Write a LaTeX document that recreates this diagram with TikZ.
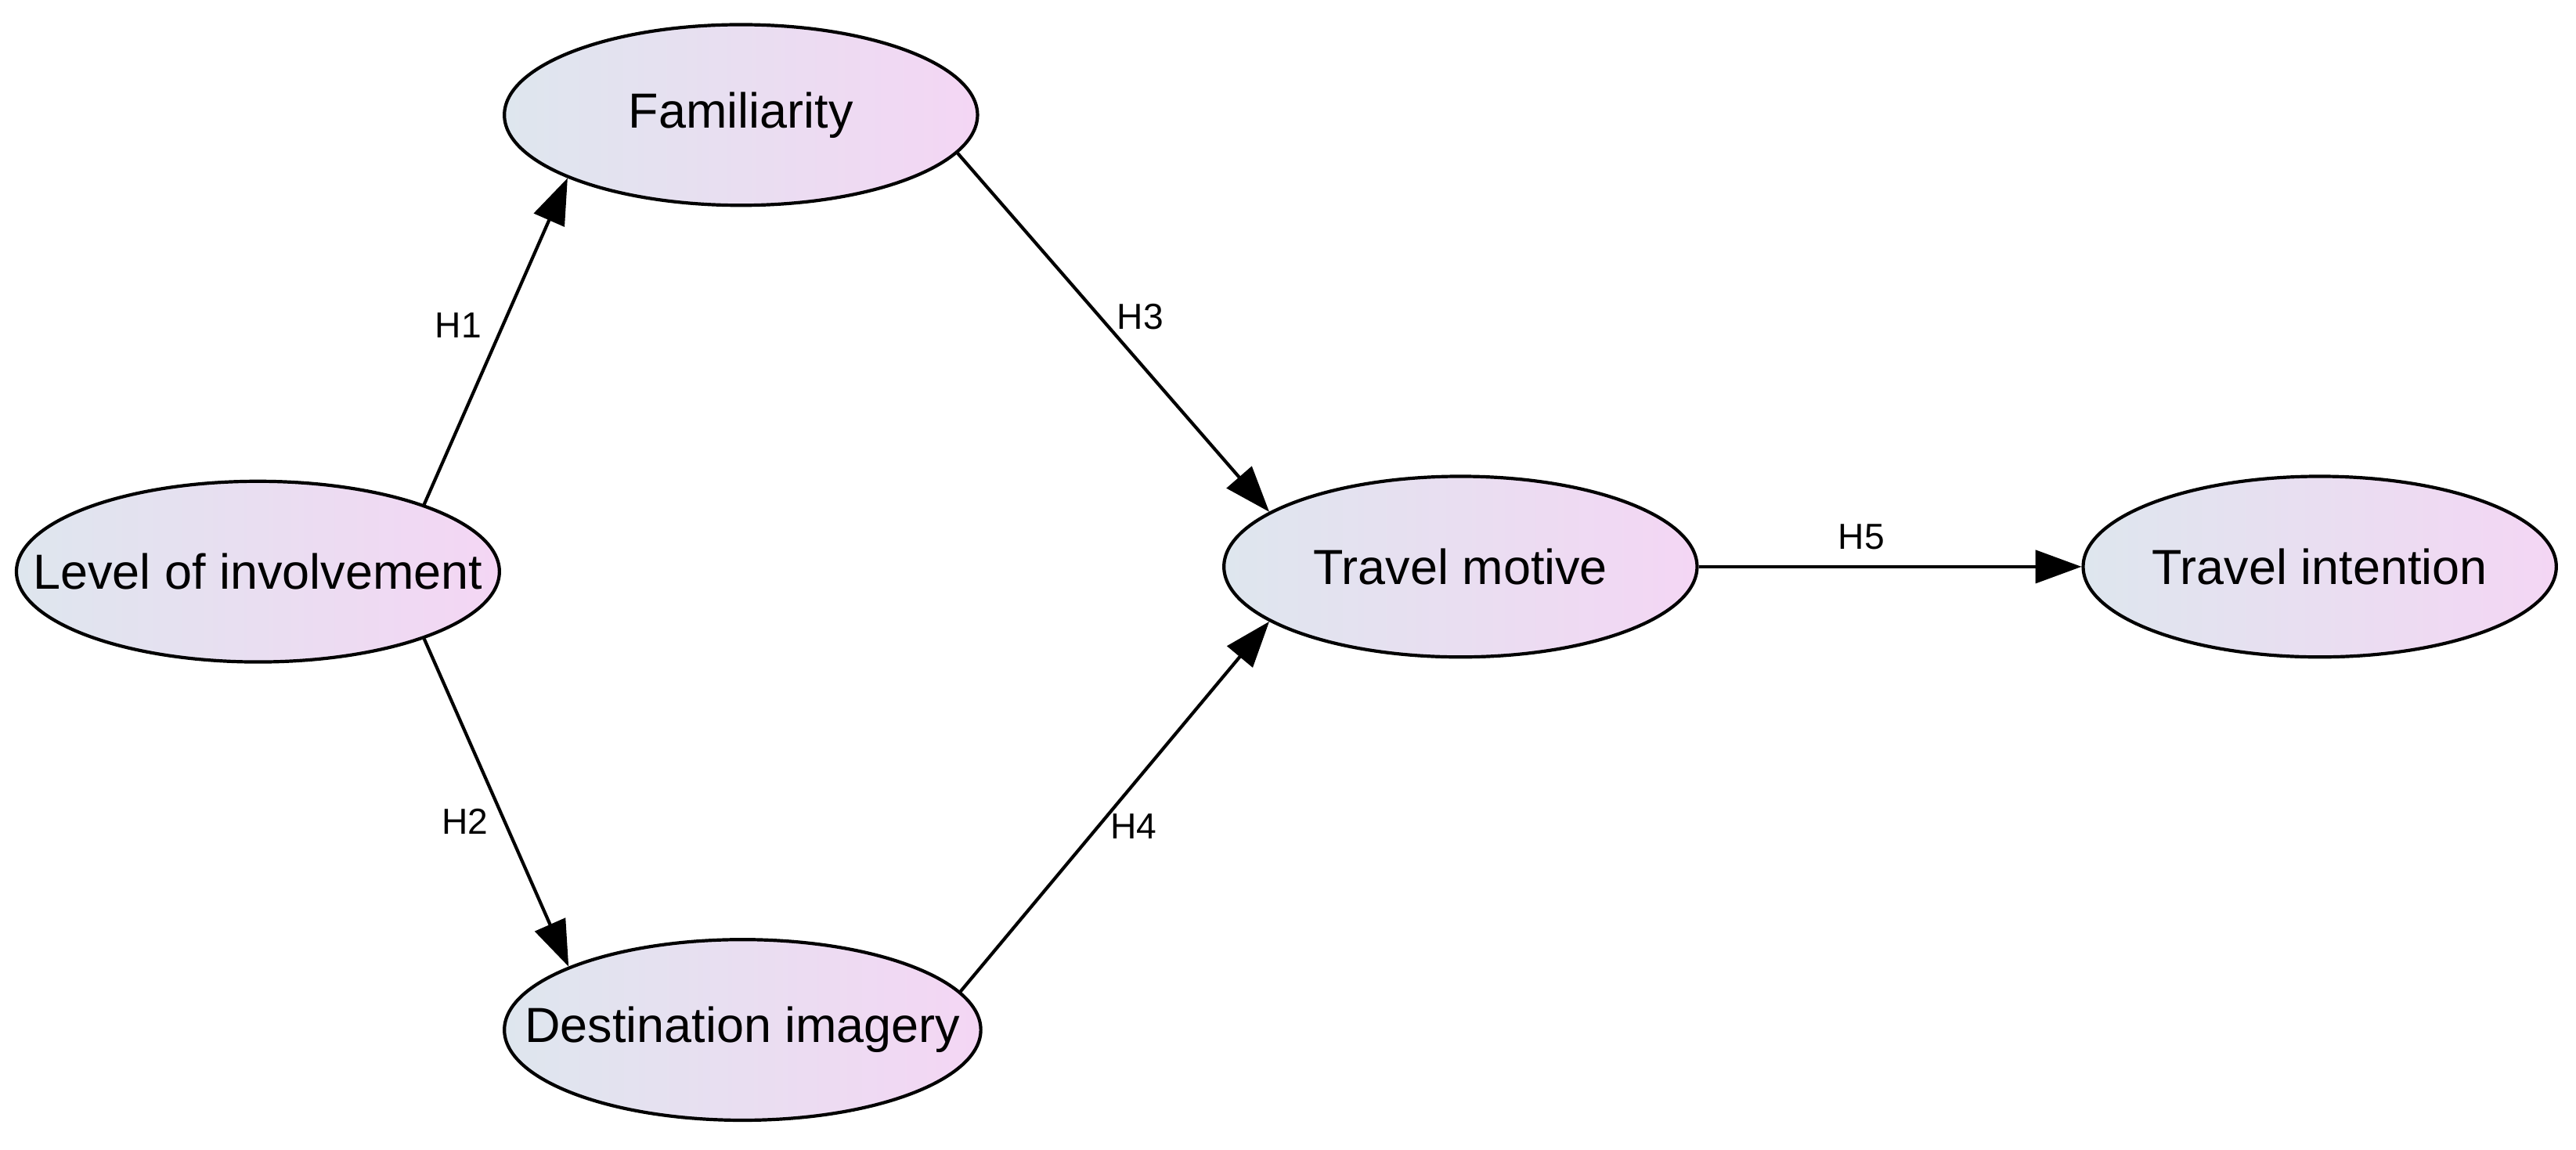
\documentclass[tikz,border=0pt]{standalone}
\usepackage{fontspec}
\setmainfont{Liberation Sans}
\usetikzlibrary{shapes.geometric,arrows.meta}
\begin{document}
\begin{tikzpicture}[x=0.5pt,y=-0.5pt,
 ell/.style={ellipse,draw,line width=1pt,minimum width=144pt,minimum height=55pt,inner xsep=-40pt,inner ysep=0pt,
   left color={rgb,255:red,222;green,230;blue,238},right color={rgb,255:red,244;green,214;blue,244},font=\fontsize{15pt}{17pt}\selectfont},
 arr/.style={line width=1pt,-{Triangle[length=14pt,width=10pt]}},
 lab/.style={font=\fontsize{11pt}{13pt}\selectfont}]
\useasboundingbox (0,0) rectangle (1568,700);
\node[ell,minimum width=147pt] (lev) at (157,348) {Level of involvement};
\node[ell] (fam) at (451,70) {Familiarity};
\node[ell,minimum width=145pt] (dest) at (452,627) {Destination imagery};
\node[ell] (mot) at (889,345) {Travel motive};
\node[ell] (int) at (1412,345) {Travel intention};
\draw[arr] (lev.22) -- (fam.200);
\draw[arr] (lev.-22) -- (dest.160);
\draw[arr] (fam.-10) -- (mot.164);
\draw[arr] (dest.10) -- (mot.196);
\draw[arr] (mot) -- (int);
\node[lab] (h1) at (279,198) {H1};
\node[lab] (h2) at (283,500) {H2};
\node[lab] (h3) at (694,193) {H3};
\node[lab] (h4) at (690,503) {H4};
\node[lab] (h5) at (1133,327) {H5};
\end{tikzpicture}
\end{document}
